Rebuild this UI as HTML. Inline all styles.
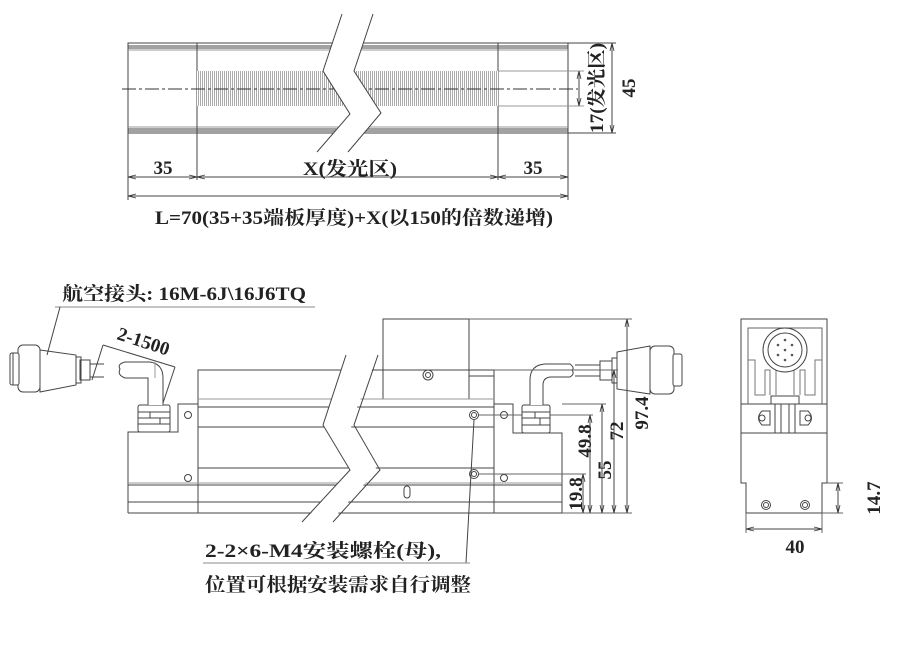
<!DOCTYPE html>
<html><head><meta charset="utf-8"><style>
html,body{margin:0;padding:0;background:#fff;}
svg{display:block}
text{font-family:"Liberation Serif","Noto Serif CJK SC",serif;font-weight:bold;fill:#222}
</style></head><body>
<svg width="911" height="662" viewBox="0 0 911 662" xmlns="http://www.w3.org/2000/svg">
<defs>
<pattern id="h" width="2" height="4" patternUnits="userSpaceOnUse"><rect width="2" height="4" fill="#fff"/><rect width="1" height="4" fill="#aaa"/></pattern>
<marker id="a" markerWidth="8" markerHeight="6" refX="8" refY="3" orient="auto-start-reverse" markerUnits="userSpaceOnUse"><path d="M0,1 L8,3 L0,5" fill="none" stroke="#333" stroke-width="0.8"/></marker>
</defs>
<g stroke="#444" stroke-width="1" fill="none">
<rect x="128" y="43" width="440" height="90"/>
<line x1="128" y1="46" x2="568" y2="46"/><line x1="128" y1="48" x2="568" y2="48"/><line x1="128" y1="50" x2="568" y2="50" stroke="#999"/>
<line x1="128" y1="127" x2="568" y2="127" stroke="#999"/><line x1="128" y1="129" x2="568" y2="129"/><line x1="128" y1="131" x2="568" y2="131"/>
<line x1="197" y1="43" x2="197" y2="133"/><line x1="498" y1="43" x2="498" y2="133"/>
<rect x="197" y="71" width="301" height="35" fill="url(#h)" stroke="none"/>
<line x1="122" y1="89" x2="578" y2="89" stroke="#333" stroke-dasharray="14,3,3,3"/>
<polygon points="342,14 323,71 350,114 317,152 348,152 381,113 354,71 373,14" fill="#fff" stroke="none"/>
<polyline points="342,14 323,71 350,114 317,152"/>
<polyline points="373,14 354,71 381,113 348,152"/>
<line x1="128" y1="133" x2="128" y2="200"/><line x1="197" y1="133" x2="197" y2="180"/><line x1="498" y1="133" x2="498" y2="180"/><line x1="568" y1="133" x2="568" y2="200"/>
<line x1="128" y1="177" x2="197" y2="177" marker-start="url(#a)" marker-end="url(#a)"/>
<line x1="197" y1="177" x2="498" y2="177" marker-start="url(#a)" marker-end="url(#a)"/>
<line x1="498" y1="177" x2="568" y2="177" marker-start="url(#a)" marker-end="url(#a)"/>
<line x1="128" y1="196" x2="568" y2="196" marker-start="url(#a)" marker-end="url(#a)"/>
<line x1="568" y1="43" x2="616" y2="43"/><line x1="568" y1="133" x2="616" y2="133"/>
<line x1="612" y1="43" x2="612" y2="133" marker-start="url(#a)" marker-end="url(#a)"/>
<line x1="498" y1="71" x2="584" y2="71" stroke="#999"/><line x1="498" y1="106" x2="584" y2="106" stroke="#999"/>
<line x1="579" y1="71" x2="579" y2="106" marker-start="url(#a)" marker-end="url(#a)"/>

<rect x="383" y="319" width="86" height="80"/>
<circle cx="428" cy="375" r="5"/><circle cx="428" cy="375" r="2.5"/>
<path d="M198,404 L198,370 L494,370 L494,404"/>
<line x1="469" y1="376" x2="494" y2="376"/>
<path d="M128,513 L128,432 L178,432 L178,404 L198,404"/>
<path d="M494,404 L513,404 L513,433 L562,433 L562,513"/>
<line x1="128" y1="513" x2="562" y2="513"/>
<line x1="198" y1="404" x2="198" y2="513"/><line x1="494" y1="404" x2="494" y2="513"/>
<line x1="198" y1="399" x2="494" y2="399" stroke="#999"/>
<line x1="198" y1="407" x2="494" y2="407"/>
<line x1="198" y1="427" x2="494" y2="427"/>
<line x1="198" y1="468" x2="494" y2="468"/>
<line x1="128" y1="483" x2="562" y2="483" stroke="#999"/><line x1="128" y1="485" x2="562" y2="485"/>
<line x1="128" y1="502" x2="562" y2="502"/>
<circle cx="188" cy="415" r="3.5"/><circle cx="188" cy="478" r="3.5"/>
<circle cx="504" cy="415" r="3.5"/><circle cx="504" cy="478" r="3.5"/>
<rect x="404" y="486" width="6" height="12" rx="3"/>
<circle cx="474" cy="415" r="4.5"/><circle cx="474" cy="415" r="2.5"/>
<circle cx="474" cy="474" r="4.5"/><circle cx="474" cy="474" r="2.5"/>
<line x1="479" y1="415" x2="593" y2="415" stroke="#666"/><line x1="479" y1="474" x2="586" y2="474" stroke="#666"/>
<polygon points="346,355 323,425 350,470 305,520 332,520 377,470 350,425 378,355" fill="#fff" stroke="none"/>
<polyline points="346,355 323,425 350,470 302,522"/>
<polyline points="378,355 354,425 380,470 333,522"/>
<rect x="138" y="405" width="32" height="27" rx="2" fill="#fff"/>
<line x1="138" y1="412" x2="170" y2="412"/><line x1="138" y1="418" x2="170" y2="418"/><line x1="138" y1="424" x2="170" y2="424"/>
<line x1="150" y1="412" x2="150" y2="418"/><line x1="160" y1="418" x2="160" y2="424"/>
<path d="M148,405 L148,378 L125,378 Q117,375 120,369 Q117,364 125,362 L150,362 Q163,364 163,378 L163,405" fill="#fff"/>
<line x1="155" y1="362" x2="155" y2="378" stroke="#999"/>
<path d="M90,364 L104,364 M90,377 L104,377"/>
<rect x="80" y="360" width="10" height="20"/>
<rect x="76" y="357" width="5" height="26"/>
<path d="M40,350 L76,355 L76,385 L40,392 Z" fill="#fff"/>
<rect x="18" y="345" width="22" height="47" rx="5" fill="#fff"/>
<rect x="10" y="353" width="9" height="32" rx="2" fill="#fff"/>
<line x1="13" y1="353" x2="13" y2="385"/>
<line x1="103" y1="345" x2="175" y2="367"/>
<line x1="103" y1="345" x2="92" y2="380"/><line x1="175" y1="367" x2="163" y2="403"/>
<line x1="55" y1="307" x2="315" y2="307" stroke="#888"/>
<line x1="60" y1="307" x2="47" y2="355"/>
<rect x="522" y="405" width="28" height="28" rx="2" fill="#fff"/>
<line x1="522" y1="412" x2="550" y2="412"/><line x1="522" y1="418" x2="550" y2="418"/><line x1="522" y1="425" x2="550" y2="425"/>
<line x1="535" y1="412" x2="535" y2="418"/><line x1="540" y1="418" x2="540" y2="425"/>
<path d="M530,405 L530,380 Q530,365 545,364 L570,364 Q575,368 572,370 Q575,374 570,377 L550,377 Q543,378 543,385 L543,405" fill="#fff"/>
<path d="M575,365 L600,365 M575,376 L600,376"/>
<rect x="600" y="361" width="12" height="19"/>
<rect x="612" y="358" width="5" height="25"/>
<path d="M617,352 L650,346 L650,394 L617,389 Z" fill="#fff"/>
<rect x="650" y="346" width="24" height="48" rx="5" fill="#fff"/>
<rect x="673" y="354" width="9" height="32" rx="2" fill="#fff"/>
<line x1="469" y1="319" x2="632" y2="319" stroke="#666"/>
<line x1="494" y1="370" x2="618" y2="370" stroke="#666"/>
<line x1="562" y1="404" x2="606" y2="404" stroke="#666"/>
<line x1="562" y1="513" x2="632" y2="513" stroke="#666"/>
<line x1="583" y1="474" x2="583" y2="513" marker-start="url(#a)" marker-end="url(#a)"/>
<line x1="590" y1="415" x2="590" y2="513" marker-start="url(#a)" marker-end="url(#a)"/>
<line x1="602" y1="404" x2="602" y2="513" marker-start="url(#a)" marker-end="url(#a)"/>
<line x1="614" y1="370" x2="614" y2="513" marker-start="url(#a)" marker-end="url(#a)"/>
<line x1="627" y1="319" x2="627" y2="513" marker-start="url(#a)" marker-end="url(#a)"/>
<line x1="474" y1="420" x2="466" y2="563"/>
<line x1="203" y1="563" x2="470" y2="563" stroke="#888"/>

<path d="M741,319 L827,319 L827,483 L822,483 L822,513 L746,513 L746,483 L741,483 Z"/>
<line x1="741" y1="404" x2="827" y2="404"/><line x1="741" y1="433" x2="827" y2="433"/>
<path d="M748,404 L748,328 L822,328 L822,404" stroke="#666"/>
<path d="M748,360 L755,360 L755,395 L765,395 L765,370 L770,370 L770,395 M822,360 L815,360 L815,395 L805,395 L805,370 L800,370 L800,395" stroke="#777"/>
<path d="M776,365 L776,395 M794,365 L794,395" stroke="#777"/>
<circle cx="785" cy="350" r="22" fill="#fff"/><circle cx="785" cy="350" r="17"/>
<g fill="#555" stroke="none"><circle cx="785" cy="350" r="1.3"/><circle cx="778" cy="345" r="1.3"/><circle cx="792" cy="345" r="1.3"/><circle cx="778" cy="355" r="1.3"/><circle cx="792" cy="355" r="1.3"/><circle cx="785" cy="340" r="1.3"/><circle cx="785" cy="360" r="1.3"/></g>
<rect x="771" y="396" width="28" height="8" fill="#fff"/>
<rect x="775" y="404" width="20" height="29"/>
<line x1="781" y1="404" x2="781" y2="433"/><line x1="789" y1="404" x2="789" y2="433"/>
<path d="M770,411 L762,411 Q755,418 762,425 L770,425 Z M800,411 L808,411 Q815,418 808,425 L800,425 Z" fill="#fff"/>
<circle cx="762" cy="418" r="3"/><circle cx="808" cy="418" r="3"/>
<circle cx="766" cy="505" r="4.5"/><circle cx="766" cy="505" r="2.5"/>
<circle cx="805" cy="505" r="4.5"/><circle cx="805" cy="505" r="2.5"/>
<line x1="746" y1="513" x2="746" y2="533" stroke="#666"/><line x1="822" y1="513" x2="822" y2="533" stroke="#666"/>
<line x1="746" y1="529" x2="822" y2="529" marker-start="url(#a)" marker-end="url(#a)"/>
<line x1="827" y1="483" x2="843" y2="483" stroke="#666"/><line x1="822" y1="513" x2="843" y2="513" stroke="#666"/>
<line x1="838" y1="483" x2="838" y2="513" marker-start="url(#a)" marker-end="url(#a)"/>
</g>

<g font-size="19">
<text x="163" y="174" text-anchor="middle">35</text>
<text x="350" y="175" text-anchor="middle" textLength="94" lengthAdjust="spacingAndGlyphs">X(发光区)</text>
<text x="533" y="174" text-anchor="middle">35</text>
<text x="155" y="224" textLength="398" lengthAdjust="spacingAndGlyphs">L=70(35+35端板厚度)+X(以150的倍数递增)</text>
<text transform="translate(635,88) rotate(-90)" text-anchor="middle">45</text>
<text transform="translate(603,88) rotate(-90)" text-anchor="middle" textLength="90" lengthAdjust="spacingAndGlyphs">17(发光区)</text>
<text x="62" y="300" textLength="244" lengthAdjust="spacingAndGlyphs">航空接头: 16M-6J\16J6TQ</text>
<text transform="translate(116,339) rotate(18)">2-1500</text>
<text x="205" y="557" textLength="236" lengthAdjust="spacingAndGlyphs">2-2×6-M4安装螺栓(母),</text>
<text x="205" y="591" textLength="266" lengthAdjust="spacingAndGlyphs">位置可根据安装需求自行调整</text>
<text transform="translate(582,494) rotate(-90)" text-anchor="middle">19.8</text>
<text transform="translate(591,441) rotate(-90)" text-anchor="middle">49.8</text>
<text transform="translate(611,470) rotate(-90)" text-anchor="middle">55</text>
<text transform="translate(623,431) rotate(-90)" text-anchor="middle">72</text>
<text transform="translate(648,413) rotate(-90)" text-anchor="middle">97.4</text>
<text x="795" y="553" text-anchor="middle">40</text>
<text transform="translate(880,498) rotate(-90)" text-anchor="middle">14.7</text>
</g>
</svg>
</body></html>
